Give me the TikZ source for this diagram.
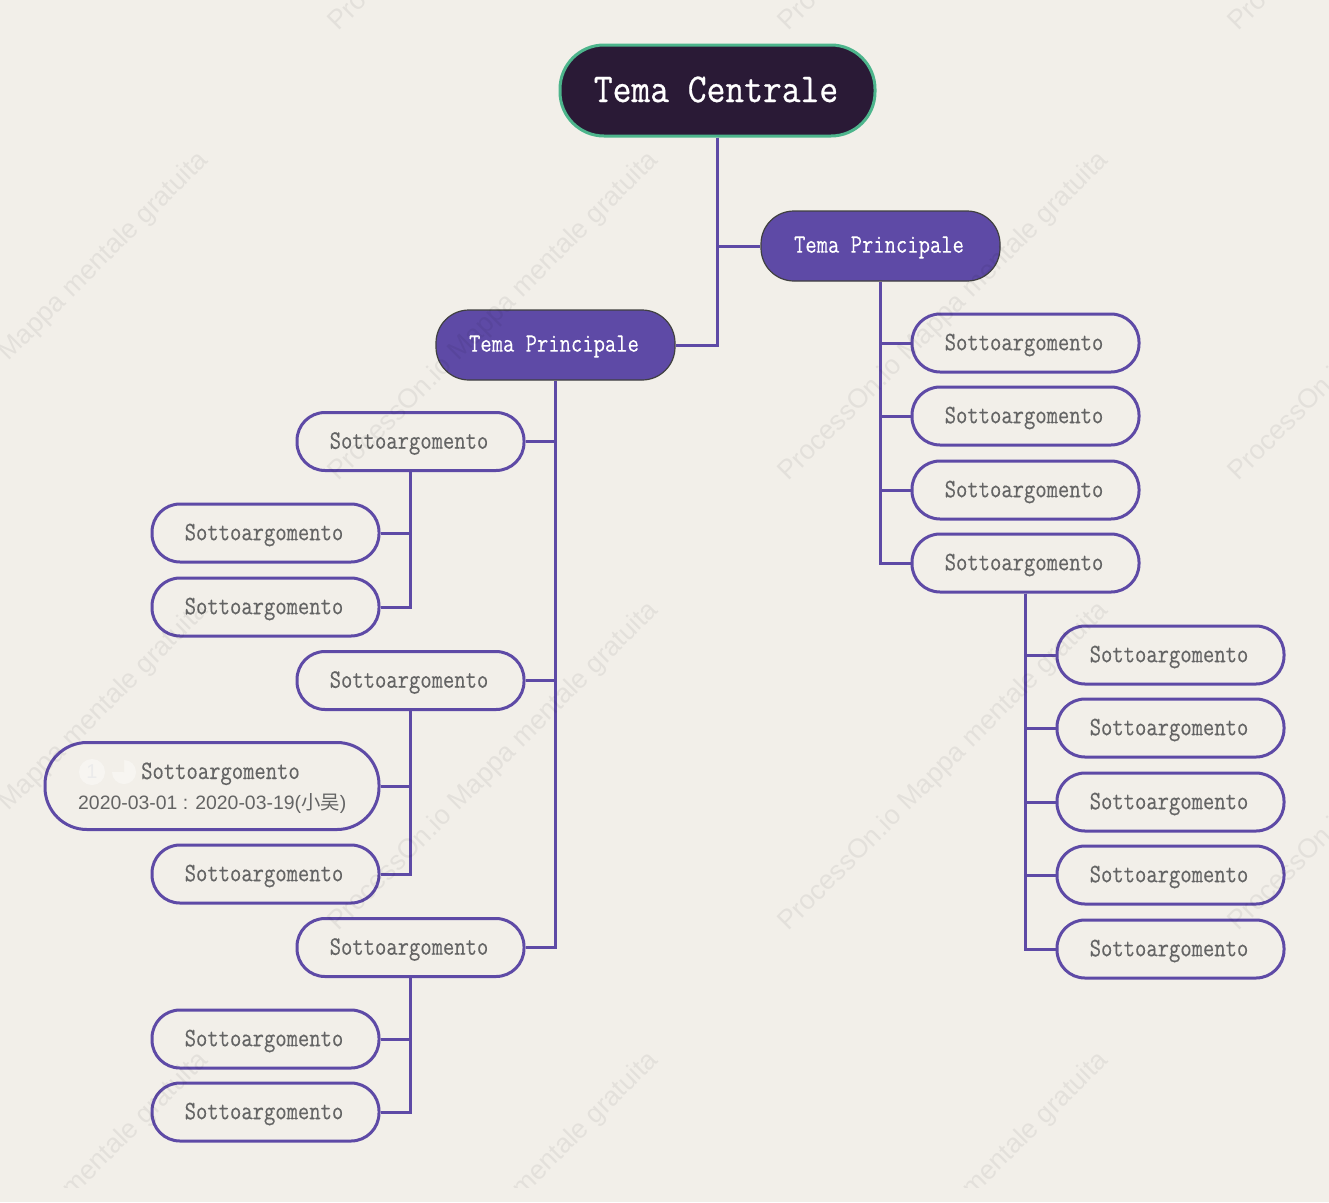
\documentclass[tikz,border=0pt]{standalone}
\usepackage{fontspec}
\setmainfont{Liberation Sans}
\newfontfamily\cjkf{Noto Sans CJK SC}
\newfontfamily\monof[FakeBold=0.2,FakeStretch=0.83]{Latin Modern Mono}
\newfontfamily\monob[FakeBold=0.6,FakeStretch=0.89]{Latin Modern Mono}
\definecolor{bgc}{HTML}{F2EFE9}
\definecolor{pur}{HTML}{5E4AA6}
\definecolor{grn}{HTML}{4DB58C}
\definecolor{rootc}{HTML}{2A1A36}
\definecolor{txt}{HTML}{646464}
\tikzset{
 rootbox/.style={draw=grn,line width=3pt,fill=rootc,text=white,rounded corners=44pt,minimum width=315pt,minimum height=91pt,inner sep=0pt,font=\monob\fontsize{41}{44}\selectfont},
 mainbox/.style={draw=black!75,line width=1.2pt,fill=pur,text=white,rounded corners=33pt,minimum width=239pt,minimum height=70pt,inner sep=0pt,font=\monof\fontsize{26.5}{30}\selectfont},
 subbox/.style={draw=pur,line width=3pt,fill=bgc,text=txt,rounded corners=28pt,minimum width=227pt,minimum height=58pt,inner sep=0pt,font=\monof\fontsize{26.5}{30}\selectfont},
 bigbox/.style={subbox,rounded corners=42pt,minimum width=334pt,minimum height=87pt},
 conn/.style={draw=pur,line width=3pt},
 wm/.style={rotate=45,anchor=base west,inner sep=0pt,text=black,text opacity=0.06,font=\fontsize{27}{30}\selectfont},
 icon/.style={circle,fill=white,fill opacity=0.4,draw=none,minimum size=26pt,inner sep=0pt},
}
\newcommand{\st}{\raisebox{-2pt}[\height][\depth]{Sottoargomento}\kern3pt}
\begin{document}
\begin{tikzpicture}[x=1pt,y=-1pt]
\useasboundingbox (0,0) rectangle (1329,1202);
\fill[bgc] (0,0) rectangle (1329,1202);
\node[rootbox] (root) at (717.5,90.5) {\raisebox{1pt}[\height][\depth]{Tema Centrale}\kern3pt};
\node[mainbox] (mr) at (880.5,246) {\raisebox{-1.5pt}[\height][\depth]{Tema Principale}\kern3pt};
\node[mainbox] (ml) at (555.5,345) {\raisebox{-1.5pt}[\height][\depth]{Tema Principale}\kern3pt};
\foreach \n/\y in {r1/343,r2/416,r3/490,r4/563}
  \node[subbox] (\n) at (1025.5,\y) {\st};
\foreach \n/\y in {q1/655,q2/728,q3/802,q4/875,q5/949}
  \node[subbox] (\n) at (1170.5,\y) {\st};
\foreach \n/\y in {l1/441.5,l2/680.5,l3/947.5}
  \node[subbox] (\n) at (410.5,\y) {\st};
\foreach \n/\y in {a1/533,a2/607,b2/874,c1/1039,c2/1112}
  \node[subbox] (\n) at (265.5,\y) {\st};
\node[bigbox] (b1) at (212,786) {};
\node[icon] (i1) at (92,772) {};
\node[font=\fontsize{20}{22}\selectfont,text=black!8] (i1t) at (92,772) {1};
\node[icon,minimum size=24pt] (i2) at (124,772) {};
\fill[bgc] (i2.center) -- (i2.north) arc[start angle=90,end angle=180,radius=12pt] -- cycle;
\node[anchor=base west,text=txt,inner sep=0pt,font=\monof\fontsize{26.5}{30}\selectfont] (b1t) at (141,779) {Sottoargomento};
\node[anchor=base west,text=txt,inner sep=0pt,font=\fontsize{19.4}{22}\selectfont] (b1d) at (78,809) {2020-03-01 : 2020-03-19({\cjkf 小吴})};
\draw[conn] (root.south) |- (mr.west);
\draw[conn] (root.south) |- (ml.east);
\foreach \n in {r1,r2,r3,r4} \draw[conn] (mr.south) |- (\n.west);
\foreach \n in {q1,q2,q3,q4,q5} \draw[conn] (r4.south) |- (\n.west);
\foreach \n in {l1,l2,l3} \draw[conn] (ml.south) |- (\n.east);
\foreach \n in {a1,a2} \draw[conn] (l1.south) |- (\n.east);
\foreach \n in {b1,b2} \draw[conn] (l2.south) |- (\n.east);
\foreach \n in {c1,c2} \draw[conn] (l3.south) |- (\n.east);
\clip (0,0) rectangle (1329,1187);
\foreach \x in {-111.5,338.5,788.5,1238.5}
 \foreach \y in {32,482,932,1382}
  \node[wm] at (\x,\y) {ProcessOn.io Mappa mentale gratuita};
\end{tikzpicture}
\end{document}
